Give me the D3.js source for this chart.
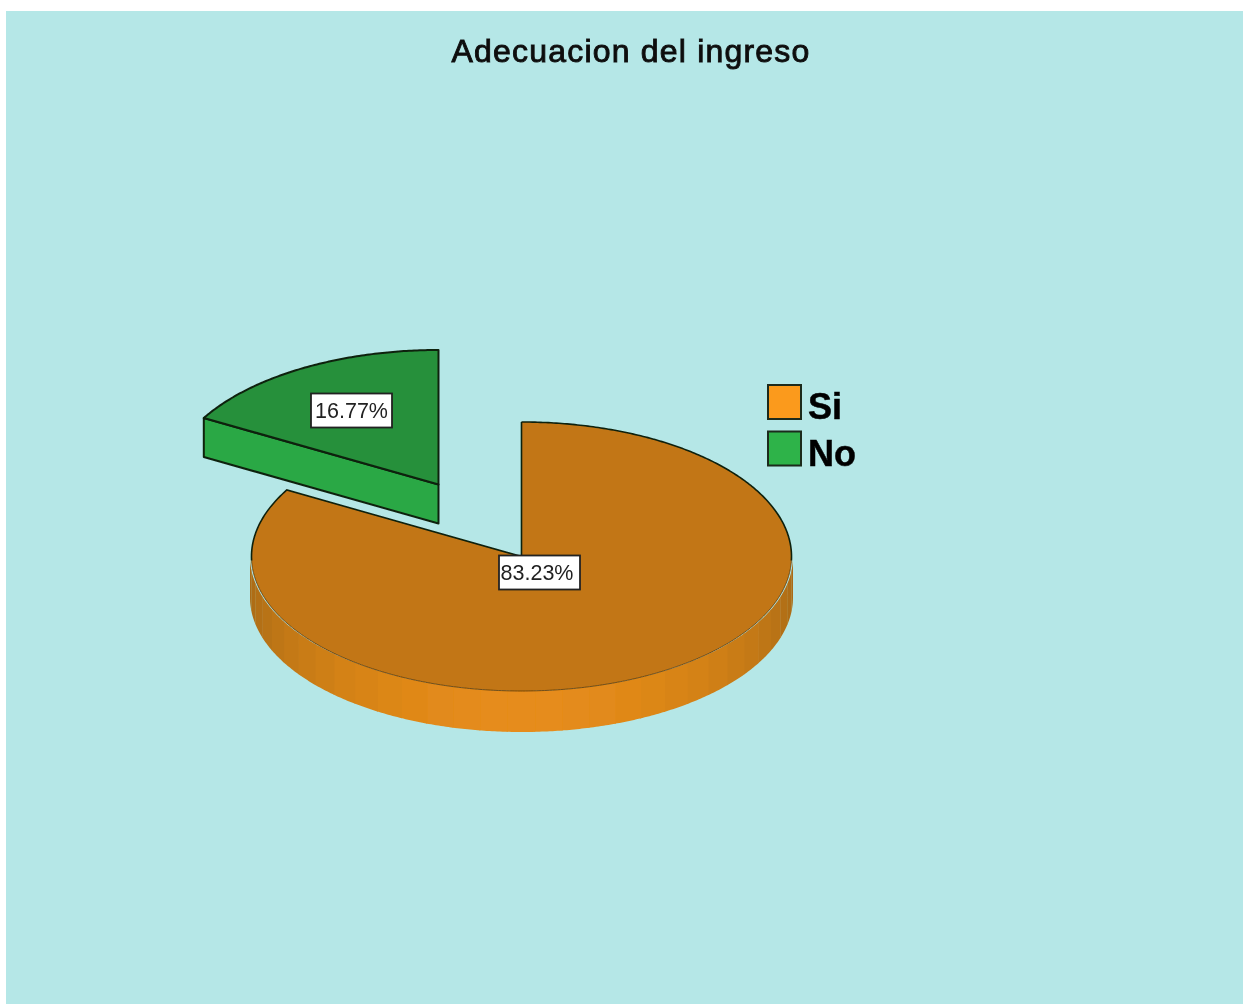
<!DOCTYPE html>
<html><head><meta charset="utf-8">
<script src="https://cdn.jsdelivr.net/npm/d3@7"></script>
<style>html,body{margin:0;padding:0;background:#fff}svg{display:block}text{font-family:"Liberation Sans",Arial,sans-serif}</style>
</head><body><svg id="c" width="1243" height="1004">
<defs><filter id="soft" x="-5%" y="-5%" width="110%" height="110%"><feGaussianBlur stdDeviation="0.45"/></filter></defs>
</svg>
<script>
const chartTitle = "Adecuacion del ingreso";
const categories = ["Si", "No"];
const values = [83.23, 16.77];
const valueLabels = ["83.23%", "16.77%"];
const topColors = ["#C27615", "#25903A"];
const sideColors = ["#E68C1A", "#2BA845"];
const legendColors = ["#FB9A1D", "#2DB34A"];

const W = 1243, H = 1004;
const root = d3.select("#c");
root.append("rect").attr("x",6).attr("y",11).attr("width",W-6).attr("height",H-11).attr("fill","#B5E7E7");
const svg = root.append("g").attr("filter","url(#soft)");
svg.append("text").attr("x",631).attr("y",62).attr("text-anchor","middle").attr("font-size",32).attr("fill","#111")
  .attr("stroke","#111").attr("stroke-width",0.9).attr("letter-spacing",1.2).text(chartTitle);

const cx = 521.5, cy = 556.5, rx = 270, ry = 134.5;
const depths = [41, 39];
const offsets = [[0,0],[-83,-72]];
const labelPos = [[539.5,572.5],[351.5,410.5]];
const textShift = [-2.5, 0];
const pie = d3.pie().sort(null).value(d=>d)(values);

const px = a => Math.sin(a)*rx, py = a => -Math.cos(a)*ry;
const line = d3.line();
const arcPts = (a0,a1,dx,dy,dz=0,grow=0) => {
  const n = Math.max(2,Math.ceil(Math.abs(a1-a0)/0.01));
  return d3.range(n+1).map(i=>{const a=a0+(a1-a0)*i/n;return [cx+dx+px(a)*(1+grow/rx),cy+dy+py(a)+dz];});
};
const dark = "#10200f";

const g0 = svg.append("g");
{
  const [dx,dy] = offsets[0];
  const depth = depths[0];
  const a0 = Math.PI/2, a1 = 3*Math.PI/2;
  const strips = 31;
  const shade = d3.scaleLinear().domain([0,1]).range(["#A96A14", sideColors[0]]);
  d3.range(strips).forEach(i=>{
    const s = a0+(a1-a0)*i/strips, e = a0+(a1-a0)*(i+1)/strips+0.004;
    const mid = (s+e)/2;
    const t = Math.pow(Math.abs(Math.sin(mid-Math.PI/2)),1.3);
    const pts = arcPts(s,e,dx,dy,0,1.5).concat(arcPts(e,s,dx,dy,depth,1.5));
    g0.append("path").attr("d",line(pts)+"Z").attr("fill",shade(t));
  });
  const p = pie[0];
  const pts = [[cx+dx,cy+dy]].concat(arcPts(p.startAngle,p.endAngle,dx,dy));
  g0.append("path").attr("d",line(pts)+"Z").attr("fill",topColors[0]);
  const rimEnd = 0.03;
  g0.append("path").attr("d",line(arcPts(Math.PI/2,3*Math.PI/2,dx,dy))).attr("fill","none").attr("stroke","#5a3a08").attr("stroke-width",0.8);
  g0.append("path").attr("d",line(arcPts(p.startAngle,Math.PI/2+rimEnd,dx,dy))).attr("fill","none").attr("stroke",dark).attr("stroke-width",1.6);
  g0.append("path").attr("d",line(arcPts(3*Math.PI/2-rimEnd,p.endAngle,dx,dy).concat([[cx+dx,cy+dy]]).concat([[cx+dx,cy+dy+py(p.startAngle)]]))).attr("fill","none").attr("stroke",dark).attr("stroke-width",1.6);
}
const g1 = svg.append("g");
{
  const [dx,dy] = offsets[1];
  const depth = depths[1];
  const p = pie[1];
  const left = arcPts(p.startAngle,p.startAngle,dx,dy)[0];
  const apex = [cx+dx,cy+dy];
  g1.append("path").attr("d",line([left,apex,[apex[0],apex[1]+depth],[left[0],left[1]+depth]])+"Z")
    .attr("fill",sideColors[1]).attr("stroke",dark).attr("stroke-width",2).attr("stroke-linejoin","round");
  g1.append("path").attr("d",line([apex].concat(arcPts(p.startAngle,p.endAngle,dx,dy)))+"Z")
    .attr("fill",topColors[1]).attr("stroke",dark).attr("stroke-width",2).attr("stroke-linejoin","round");
}
values.forEach((v,i)=>{
  const [lx,ly] = labelPos[i];
  svg.append("rect").attr("x",lx-40.5).attr("y",ly-17).attr("width",81).attr("height",34)
    .attr("fill","#fff").attr("stroke","#222").attr("stroke-width",1.8);
  svg.append("text").attr("x",lx+textShift[i]).attr("y",ly+7.5).attr("text-anchor","middle").attr("font-size",21.5).attr("fill","#222").text(valueLabels[i]);
});
categories.forEach((c,i)=>{
  const y = 385+i*46.5;
  svg.append("rect").attr("x",768).attr("y",y).attr("width",33).attr("height",34)
    .attr("fill",legendColors[i]).attr("stroke","#1c2a1c").attr("stroke-width",2);
  svg.append("text").attr("x",808).attr("y",y+34).attr("font-size",36).attr("font-weight","bold").attr("fill","#000")
    .attr("stroke","#000").attr("stroke-width",0.5).text(c);
});
</script></body></html>
